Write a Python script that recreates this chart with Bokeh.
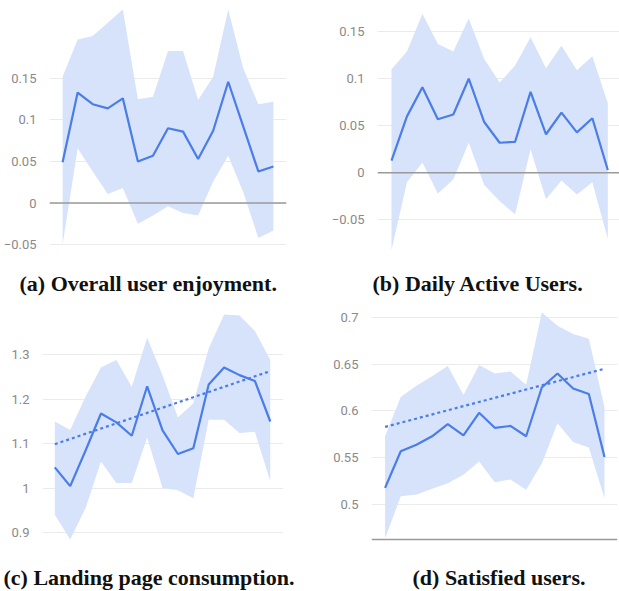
from bokeh.plotting import figure
from bokeh.layouts import column, row
from bokeh.models import Range1d, FixedTicker, Span
from bokeh.embed import file_html
from bokeh.resources import INLINE

idx = list(range(15))

# (a) Overall user enjoyment
a_mean = [0.049, 0.133, 0.119, 0.114, 0.126, 0.050, 0.057, 0.090, 0.086, 0.053, 0.087, 0.146, 0.092, 0.038, 0.044]
a_up = [0.152, 0.197, 0.201, 0.217, 0.233, 0.125, 0.128, 0.183, 0.183, 0.124, 0.152, 0.233, 0.162, 0.119, 0.122]
a_lo = [-0.050, 0.066, 0.038, 0.011, 0.018, -0.025, -0.015, -0.004, -0.012, -0.015, 0.026, 0.057, 0.013, -0.042, -0.033]
a_ticks = [-0.05, 0, 0.05, 0.1, 0.15]

# (b) Daily Active Users
b_mean = [0.013, 0.060, 0.091, 0.057, 0.062, 0.100, 0.054, 0.032, 0.033, 0.086, 0.041, 0.064, 0.043, 0.058, 0.003]
b_up = [0.110, 0.129, 0.169, 0.137, 0.129, 0.164, 0.121, 0.096, 0.114, 0.144, 0.111, 0.135, 0.109, 0.124, 0.074]
b_lo = [-0.082, -0.010, 0.011, -0.022, -0.007, 0.032, -0.013, -0.030, -0.044, 0.025, -0.028, -0.008, -0.023, -0.010, -0.070]
b_ticks = [-0.05, 0, 0.05, 0.1, 0.15]

# (c) Landing page consumption
c_mean = [1.047, 1.005, 1.085, 1.168, 1.148, 1.118, 1.229, 1.130, 1.077, 1.090, 1.233, 1.271, 1.254, 1.241, 1.150]
c_up = [1.150, 1.131, 1.206, 1.271, 1.288, 1.228, 1.338, 1.254, 1.159, 1.191, 1.314, 1.390, 1.388, 1.353, 1.288]
c_lo = [0.941, 0.885, 0.956, 1.060, 1.012, 1.012, 1.114, 1.001, 0.996, 0.978, 1.154, 1.154, 1.124, 1.127, 1.016]
c_trend = [1.099, 1.263]
c_ticks = [0.9, 1.0, 1.1, 1.2, 1.3]
c_labels = {0.9: "0.9", 1.0: "1", 1.1: "1.1", 1.2: "1.2", 1.3: "1.3"}

# (d) Satisfied users
d_mean = [0.518, 0.557, 0.564, 0.573, 0.586, 0.574, 0.598, 0.582, 0.584, 0.573, 0.625, 0.640, 0.624, 0.618, 0.551]
d_up = [0.573, 0.615, 0.627, 0.637, 0.648, 0.617, 0.649, 0.640, 0.642, 0.628, 0.705, 0.691, 0.682, 0.677, 0.604]
d_lo = [0.464, 0.509, 0.511, 0.517, 0.523, 0.532, 0.546, 0.524, 0.527, 0.516, 0.544, 0.587, 0.567, 0.561, 0.507]
d_trend = [0.583, 0.645]
d_ticks = [0.5, 0.55, 0.6, 0.65, 0.7]
d_axis_floor = 0.4628

captions = ["(a) Overall user enjoyment.", "(b) Daily Active Users.",
            "(c) Landing page consumption.", "(d) Satisfied users."]

LINE = "#4a7de8"
BAND = "#d6e3fa"
LABEL = "#8a8a8a"
GRID = "#ebebeb"
RULE = "#9a9a9a"


def make(mean, up, lo, ticks, yr, xr, w, h, mbl, mbr, mbt, mbb, caption, cap_offset,
         cap_standoff, labels=None, rule=None, trend=None):
    p = figure(width=w, height=h, output_backend="svg", toolbar_location=None,
               x_range=Range1d(*xr), y_range=Range1d(*yr),
               min_border_left=mbl, min_border_right=mbr, min_border_top=mbt,
               min_border_bottom=mbb, title=caption, title_location="below")
    p.outline_line_color = None
    p.background_fill_color = None
    p.border_fill_color = None
    p.xaxis.visible = False
    p.xgrid.visible = False
    ax = p.yaxis[0]
    ax.ticker = FixedTicker(ticks=ticks)
    if labels:
        ax.major_label_overrides = labels
    ax.axis_line_color = None
    ax.major_tick_line_color = None
    ax.minor_tick_line_color = None
    ax.major_label_text_font = "Roboto"
    ax.major_label_text_font_size = "13px"
    ax.major_label_text_color = LABEL
    ax.major_label_standoff = 7
    p.ygrid.grid_line_color = GRID
    p.ygrid.grid_line_width = 1
    p.title.text_font = "Liberation Serif"
    p.title.text_font_style = "bold"
    p.title.text_font_size = "22px"
    p.title.text_color = "#111111"
    p.title.align = "left"
    p.title.offset = cap_offset
    p.title.standoff = cap_standoff
    p.varea(x=idx, y1=lo, y2=up, fill_color=BAND, fill_alpha=1)
    if rule is not None:
        p.add_layout(Span(location=rule, dimension="width", line_color=RULE, line_width=1.5))
    p.line(idx, mean, line_color=LINE, line_width=2.2)
    if trend:
        p.line([idx[0], idx[-1]], trend, line_color=LINE, line_width=2.2, line_dash="3 3")
    return p


pa = make(a_mean, a_up, a_lo, a_ticks, (-0.0728, 0.2342), (-0.87, 14.87), 310, 300,
          45, 24, 8, 36, captions[0], -30, 10, labels={0: "0"}, rule=0)
pb = make(b_mean, b_up, b_lo, b_ticks, (-0.0963, 0.1746), (-0.906, 14.757), 309, 300,
          67, 0, 8, 36, captions[1], -5, 10, labels={0: "0"}, rule=0)
pc = make(c_mean, c_up, c_lo, c_ticks, (0.8381, 1.408), (-0.80, 14.86), 310, 291,
          42, 27, 6, 30, captions[2], -39, 4, labels=c_labels, trend=c_trend)
pd = make(d_mean, d_up, d_lo, d_ticks, (0.4405, 0.7114), (-0.866, 14.83), 309, 291,
          61, 2, 6, 30, captions[3], 41, 4, rule=d_axis_floor, trend=d_trend)

layout = column(row(pa, pb), row(pc, pd))
open("out.html", "w").write(file_html(layout, INLINE))
